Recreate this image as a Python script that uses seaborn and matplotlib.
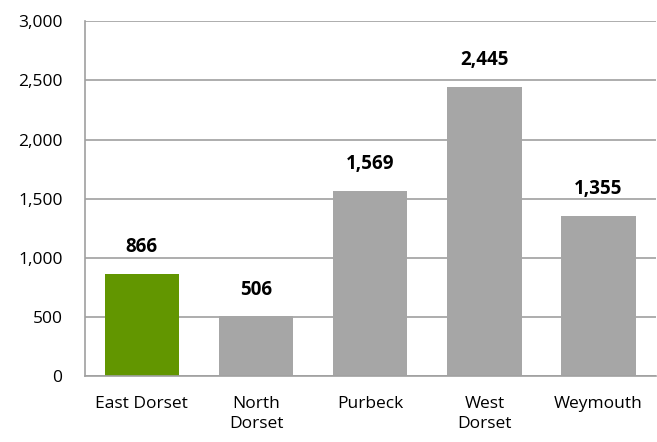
import matplotlib
matplotlib.use("Agg")
import matplotlib.pyplot as plt
import seaborn as sns
import pandas as pd
from matplotlib.ticker import FuncFormatter

districts = ["East Dorset", "North\nDorset", "Purbeck", "West\nDorset", "Weymouth"]
counts = [866, 506, 1569, 2445, 1355]
bar_colors = ["#629600", "#a6a6a6", "#a6a6a6", "#a6a6a6", "#a6a6a6"]

df = pd.DataFrame({"district": districts, "count": counts})

sns.set_style("white")
plt.rcParams["font.family"] = ["Open Sans", "DejaVu Sans"]
plt.rcParams["text.color"] = "black"

fig = plt.figure(figsize=(6.57, 4.42), dpi=100)
ax = fig.add_axes([0.129, 0.149, 0.869, 0.803])

sns.barplot(data=df, x="district", y="count", hue="district",
            palette=bar_colors, legend=False, width=0.65, saturation=1,
            linewidth=0, ax=ax)

ax.set_ylim(0, 3000)
ax.set_yticks(range(0, 3001, 500))
ax.yaxis.set_major_formatter(FuncFormatter(lambda v, p: f"{int(v):,}"))
ax.grid(axis="y", color="#a0a0a0", linewidth=1.2)
ax.set_axisbelow(True)
for s in ["left", "bottom"]:
    ax.spines[s].set_color("#a0a0a0")
    ax.spines[s].set_linewidth(1.2)
for s in ["top", "right"]:
    ax.spines[s].set_visible(False)
ax.tick_params(axis="both", length=0, labelsize=12.5, colors="black")
ax.tick_params(axis="x", pad=14)
ax.tick_params(axis="y", pad=16)
for lbl in ax.get_xticklabels():
    lbl.set_linespacing(1.35)
ax.set_xlabel("")
ax.set_ylabel("")

for i, v in enumerate(counts):
    ax.text(i, v + 140, f"{v:,}", ha="center", va="bottom",
            fontsize=13.5, fontweight="bold", color="black")

fig.savefig("out.png", dpi=100)
